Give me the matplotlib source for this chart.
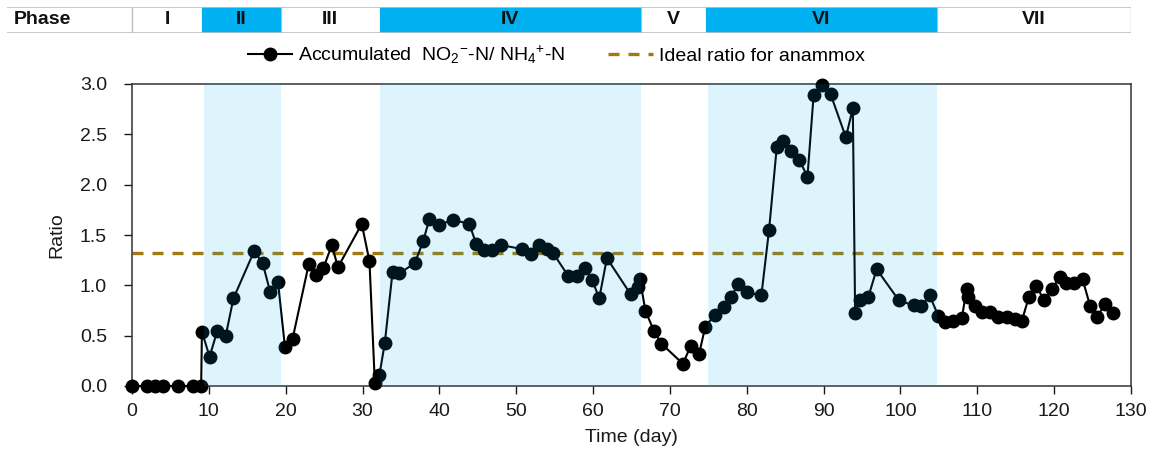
import matplotlib
matplotlib.use("Agg")
import matplotlib.pyplot as plt
from matplotlib.lines import Line2D

plt.rcParams['font.family'] = ['Liberation Sans', 'DejaVu Sans']
plt.rcParams['mathtext.fontset'] = 'custom'
plt.rcParams['mathtext.rm'] = 'Liberation Sans'
plt.rcParams['mathtext.it'] = 'Liberation Sans:italic'
plt.rcParams['mathtext.bf'] = 'Liberation Sans:bold'

# ---------------- data ----------------
days = [0, 2, 3, 4, 6, 8, 9, 9.1, 10.1, 11.1, 12.2, 13.2, 15.9, 17.0, 18.0, 19.0, 19.9, 20.9,
        23.0, 24.0, 24.9, 26.0, 26.8, 29.9, 30.9, 31.6, 32.2, 32.9, 33.9, 34.8, 36.8, 37.9,
        38.7, 39.9, 41.8, 43.9, 44.8, 45.8, 46.8, 48.0, 50.8, 51.9, 53.0, 54.0, 54.8, 56.8,
        57.9, 58.9, 59.9, 60.8, 61.8, 64.9, 65.8, 66.1, 66.8, 67.9, 68.9, 71.7, 72.7, 73.8,
        74.6, 75.9, 77.1, 77.9, 78.9, 80.0, 81.9, 82.9, 83.9, 84.7, 85.8, 86.8, 87.9, 88.7,
        89.8, 90.9, 92.9, 93.8, 94.1, 94.7, 95.8, 96.9, 99.8, 101.7, 102.7, 103.8, 104.9,
        105.8, 106.8, 108.0, 108.6, 108.8, 109.7, 110.6, 111.6, 112.7, 113.9, 114.9, 115.8,
        116.7, 117.7, 118.7, 119.7, 120.7, 121.6, 122.6, 123.7, 124.7, 125.6, 126.6, 127.6]
ratio = [0, 0, 0, 0, 0, 0, 0, 0.54, 0.29, 0.55, 0.50, 0.87, 1.34, 1.22, 0.93, 1.03, 0.39, 0.47,
         1.21, 1.10, 1.17, 1.40, 1.18, 1.61, 1.24, 0.03, 0.11, 0.43, 1.13, 1.12, 1.22, 1.44,
         1.66, 1.60, 1.65, 1.61, 1.41, 1.35, 1.35, 1.40, 1.36, 1.31, 1.40, 1.36, 1.32, 1.09,
         1.09, 1.17, 1.05, 0.87, 1.27, 0.91, 0.98, 1.06, 0.75, 0.55, 0.42, 0.22, 0.40, 0.32,
         0.59, 0.71, 0.78, 0.88, 1.01, 0.93, 0.90, 1.55, 2.37, 2.43, 2.33, 2.25, 2.08, 2.89,
         2.99, 2.90, 2.47, 2.76, 0.73, 0.85, 0.88, 1.16, 0.85, 0.80, 0.79, 0.90, 0.70,
         0.64, 0.65, 0.68, 0.96, 0.88, 0.79, 0.74, 0.74, 0.69, 0.69, 0.67, 0.65,
         0.88, 0.99, 0.85, 0.96, 1.08, 1.02, 1.02, 1.06, 0.79, 0.69, 0.81, 0.73]
ideal_ratio = 1.32

phase_names = ['I', 'II', 'III', 'IV', 'V', 'VI', 'VII']
phase_bounds = [0, 9.15, 19.35, 32.25, 66.2, 74.7, 104.7, 130]
phase_blue = [False, True, False, True, False, True, False]
shade_spans = [(9.4, 19.35), (32.3, 66.3), (74.9, 104.7)]

x_ticks = list(range(0, 131, 10))
y_ticks = [0.0, 0.5, 1.0, 1.5, 2.0, 2.5, 3.0]

# ---------------- figure ----------------
W, H = 1156, 457
fig = plt.figure(figsize=(W / 100, H / 100), dpi=100)
ax = fig.add_axes([132 / W, 1 - 386 / H, 999 / W, 302 / H])

ax.plot(days, ratio, color='black', lw=1.5, marker='o', markersize=9,
        markerfacecolor='black', markeredgecolor='black', clip_on=False, zorder=3)
ax.axhline(ideal_ratio, color='#a07a10', lw=2.4, dashes=(3.3, 2.7), zorder=2)
for a, b in shade_spans:
    ax.axvspan(a, b, color='#00b0f0', alpha=0.13, lw=0, zorder=5)

ax.set_xlim(0, 130)
ax.set_ylim(0, 3.0)
ax.set_xticks(x_ticks)
ax.set_yticks(y_ticks)
ax.set_yticklabels([f'{v:.1f}' for v in y_ticks])
ax.tick_params(axis='x', direction='out', length=6, width=1, pad=6, labelsize=14,
               colors='#1a1a1a')
ax.tick_params(axis='y', direction='out', length=6, width=1, pad=12, labelsize=14,
               colors='#1a1a1a')
for s in ax.spines.values():
    s.set_color('#333333')
    s.set_linewidth(1.1)

fig.text(57 / W, 1 - 235 / H, 'Ratio', rotation=90, ha='center', va='center',
         fontsize=14, color='#1a1a1a')
fig.text(631 / W, 1 - 438 / H, 'Time (day)', ha='center', va='center',
         fontsize=14, color='#1a1a1a')

# ---------------- legend ----------------
h1 = Line2D([], [], color='black', lw=1.5, marker='o', markersize=9)
h2 = Line2D([], [], color='#a07a10', lw=2.4, dashes=(3.3, 2.7))
fig.legend([h1, h2],
           [r'Accumulated  NO$_2$$^{-}$-N/ NH$_4$$^{+}$-N', 'Ideal ratio for anammox'],
           loc='center', bbox_to_anchor=(556 / W, 1 - 55 / H), ncol=2, frameon=False,
           fontsize=14, handlelength=2.3, handletextpad=0.3, columnspacing=2.2)

# ---------------- phase table ----------------
left_day = (7 - 132) / (999 / 130)
tax = fig.add_axes([7 / W, 1 - 33 / H, (1131 - 7) / W, 26 / H])
tax.set_xlim(left_day, 130)
tax.set_ylim(0, 1)
tax.axis('off')
for i, name in enumerate(phase_names):
    a, b = phase_bounds[i], phase_bounds[i + 1]
    if phase_blue[i]:
        tax.axvspan(a, b, ymin=0, ymax=1, color='#00b0f0', lw=0)
    tax.text((a + b) / 2, 0.5, name, ha='center', va='center', fontsize=14,
             fontweight='bold', color='#111111')
tax.vlines(phase_bounds, 0, 1, color='#bfbfbf', lw=1, zorder=0)
tax.axhline(1, color='#bfbfbf', lw=1.2)
tax.axhline(0, color='#bfbfbf', lw=1.2)
tax.text(left_day + 0.9, 0.5, 'Phase', ha='left', va='center', fontsize=14,
         fontweight='bold', color='#111111')

fig.savefig('out.png', dpi=100)
